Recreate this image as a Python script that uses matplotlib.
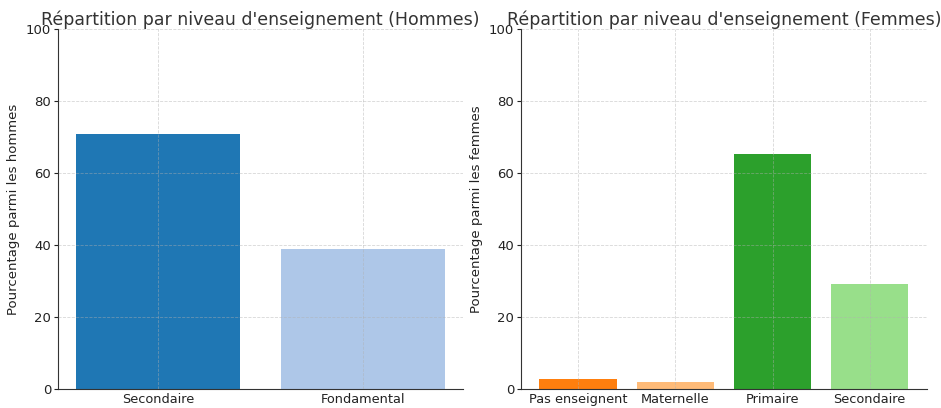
import matplotlib
matplotlib.use("Agg")
import matplotlib.pyplot as plt

hommes_cats = ["Secondaire", "Fondamental"]
hommes_vals = [70.9, 38.9]
hommes_colors = ["#1f77b4", "#aec7e8"]

femmes_cats = ["Pas enseignent", "Maternelle", "Primaire", "Secondaire"]
femmes_vals = [2.8, 2.0, 65.4, 29.3]
femmes_colors = ["#ff7f0e", "#ffbb78", "#2ca02c", "#98df8a"]

plt.rcParams['font.family'] = ['DejaVu Sans']
plt.rcParams['text.color'] = '#333333'
plt.rcParams['axes.labelcolor'] = '#222222'
plt.rcParams['xtick.color'] = '#222222'
plt.rcParams['ytick.color'] = '#222222'

fig = plt.figure(figsize=(9.41, 4.08), dpi=100)
ax1 = fig.add_axes([0.0616, 0.0466, 0.4304, 0.8824])
ax2 = fig.add_axes([0.5537, 0.0466, 0.4313, 0.8824])

def style(ax, title, ylabel):
    ax.set_ylim(0, 100)
    ax.set_title(title, fontsize=12.5, color='#333333', pad=3)
    ax.set_ylabel(ylabel, fontsize=9.5)
    ax.spines['top'].set_visible(False)
    ax.spines['right'].set_visible(False)
    ax.spines['left'].set_color('#333333')
    ax.spines['bottom'].set_color('#333333')
    ax.set_axisbelow(False)
    ax.grid(True, linestyle='--', linewidth=0.6, color='#b0b0b0', alpha=0.5)
    ax.tick_params(axis='y', labelsize=9.5, length=3, pad=2)
    ax.tick_params(axis='x', labelsize=9.3, length=0, pad=3)
    ax.set_yticks([0, 20, 40, 60, 80, 100])

ax1.bar(hommes_cats, hommes_vals, color=hommes_colors, width=0.8)
style(ax1, "Répartition par niveau d'enseignement (Hommes)", "Pourcentage parmi les hommes")

ax2.bar(femmes_cats, femmes_vals, color=femmes_colors, width=0.8)
style(ax2, "Répartition par niveau d'enseignement (Femmes)", "Pourcentage parmi les femmes")

fig.savefig("out.png", dpi=100)
